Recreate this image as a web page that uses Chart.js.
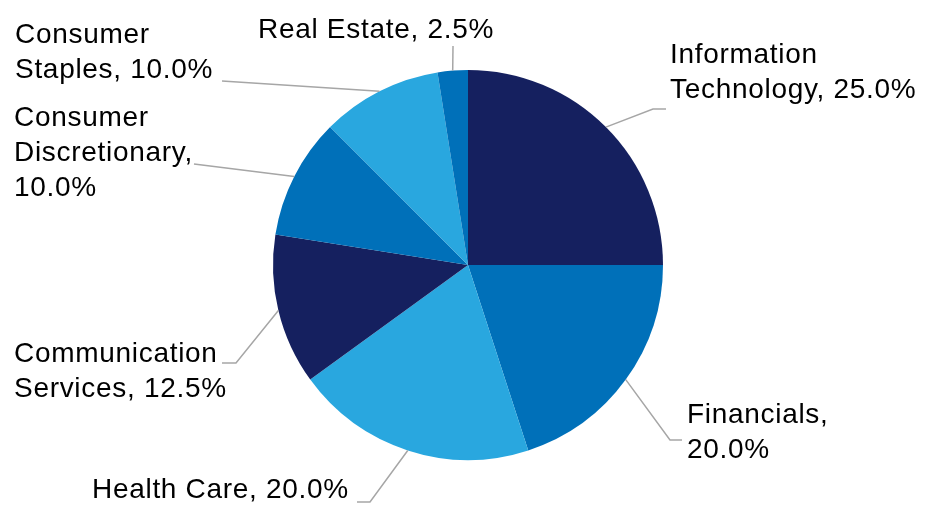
<!DOCTYPE html>
<html>
<head>
<meta charset="utf-8">
<script src="https://cdn.jsdelivr.net/npm/chart.js@4/dist/chart.umd.min.js"></script>
<style>
  body { margin: 0; background: #fff; }
  #wrap { width: 926px; height: 505px; position: relative; }
</style>
</head>
<body>
<div id="wrap"><canvas id="sectorPie"></canvas></div>
<script>
// sector weights
const sectors = ['Information Technology', 'Financials', 'Health Care', 'Communication Services',
                 'Consumer Discretionary', 'Consumer Staples', 'Real Estate'];
const weights = [25.0, 20.0, 20.0, 12.5, 10.0, 10.0, 2.5];
const sliceColors = ['#15205f', '#0070b9', '#29a7df', '#15205f', '#0070b9', '#29a7df', '#0070b9'];

// label placement: words per line, text anchor, leader elbow/end points
const labelLayout = [
  { wrap: [1, 2], x: 670, y: 63, align: 'left', leader: [[653, 109], [666, 109]] },
  { wrap: [1, 1], x: 687, y: 423, align: 'left', leader: [[670, 440], [682, 440]] },
  { wrap: [4], x: 92, y: 498, align: 'left', leader: [[370, 502], [357, 502]] },
  { wrap: [1, 2], x: 14, y: 362, align: 'left', leader: [[236, 363], [222, 363]] },
  { wrap: [1, 1, 1], x: 14, y: 126, align: 'left', leader: [[194, 164]] },
  { wrap: [1, 2], x: 15, y: 43, align: 'left', leader: [[222, 81]] },
  { wrap: [3], x: 258, y: 38, align: 'left', leader: [[453, 46]] }
];
const lineHeight = 35;

function labelLines(i) {
  const words = `${sectors[i]}, ${weights[i].toFixed(1)}%`.split(' ');
  const out = [];
  let k = 0;
  labelLayout[i].wrap.forEach(n => {
    out.push(words.slice(k, k + n).join(' '));
    k += n;
  });
  return out;
}

const leaderLabels = {
  id: 'leaderLabels',
  afterDatasetsDraw(chart) {
    const { ctx } = chart;
    const arcs = chart.getDatasetMeta(0).data;
    ctx.save();
    arcs.forEach((arc, i) => {
      const lay = labelLayout[i];
      const mid = (arc.startAngle + arc.endAngle) / 2;
      const sx = arc.x + Math.cos(mid) * arc.outerRadius;
      const sy = arc.y + Math.sin(mid) * arc.outerRadius;

      ctx.strokeStyle = '#a6a6a6';
      ctx.lineWidth = 1.5;
      ctx.beginPath();
      ctx.moveTo(sx, sy);
      lay.leader.forEach(p => ctx.lineTo(p[0], p[1]));
      ctx.stroke();

      ctx.fillStyle = '#000';
      ctx.font = '28px "Liberation Sans", Arial, sans-serif';
      ctx.letterSpacing = '0.7px';
      ctx.textAlign = lay.align;
      ctx.textBaseline = 'alphabetic';
      labelLines(i).forEach((t, j) => {
        ctx.fillText(t, lay.x, lay.y + j * lineHeight);
      });
    });
    ctx.restore();
  }
};

const pieConfig = {
  type: 'pie',
  data: {
    labels: sectors,
    datasets: [{
      data: weights,
      backgroundColor: sliceColors,
      borderWidth: 0
    }]
  },
  options: {
    responsive: true,
    maintainAspectRatio: false,
    animation: false,
    layout: { padding: { top: 70, bottom: 45, left: 273, right: 263 } },
    plugins: {
      legend: { display: false },
      tooltip: { enabled: false }
    }
  },
  plugins: [leaderLabels]
};

const sectorPie = new Chart(document.getElementById('sectorPie'), pieConfig);
</script>
</body>
</html>
